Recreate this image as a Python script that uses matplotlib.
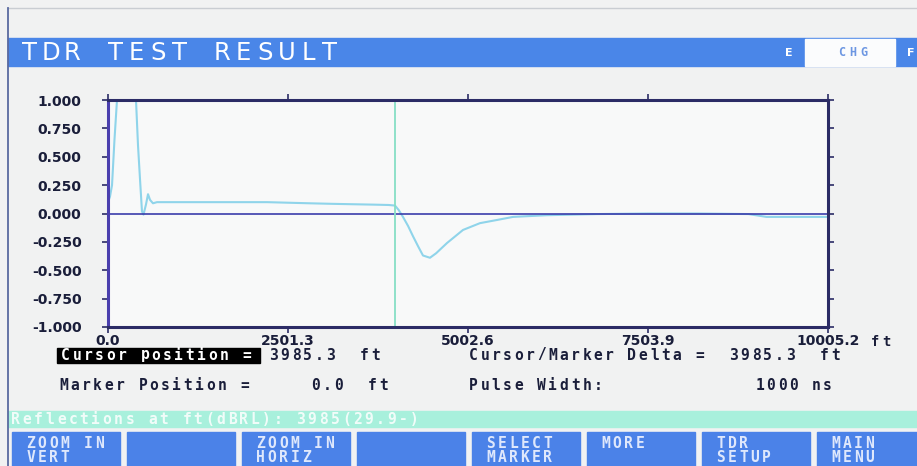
import numpy as np
import matplotlib.pyplot as plt
from matplotlib.patches import Rectangle

# TDR trace (distance in ft, reflection coefficient)
dist_ft = [0, 28, 56, 90, 125, 160, 375, 389, 417, 445, 472, 493, 528, 556, 584,
           625, 681, 1200, 2209, 2800, 3127, 3700, 3900, 3988, 4040, 4099, 4170,
           4238, 4310, 4377, 4474, 4560, 4711, 4933, 5169, 5406, 5628, 6100,
           6800, 7500, 8200, 8900, 9050, 9150, 9600, 10005.2]
reflection = [0.10, 0.15, 0.25, 0.65, 1.0, 1.3, 1.3, 1.0, 0.6, 0.3, 0.02, -0.01,
              0.08, 0.17, 0.12, 0.09, 0.10, 0.10, 0.10, 0.09, 0.085, 0.078, 0.075,
              0.07, 0.03, -0.03, -0.11, -0.20, -0.29, -0.37, -0.39, -0.35, -0.26,
              -0.145, -0.085, -0.057, -0.03, -0.015, -0.005, 0.0, 0.0, -0.005,
              -0.02, -0.03, -0.03, -0.03]
cursor_ft = 3985.3

x_ticks = [0.0, 2501.3, 5002.6, 7503.9, 10005.2]
x_tick_labels = ['0.0', '2501.3', '5002.6', '7503.9', '10005.2']
y_ticks = [1.0, 0.75, 0.5, 0.25, 0.0, -0.25, -0.5, -0.75, -1.0]
y_tick_labels = ['1.000', '0.750', '0.500', '0.250', '0.000',
                 '-0.250', '-0.500', '-0.750', '-1.000']

buttons = [('ZOOM IN', 'VERT'), ('', ''), ('ZOOM IN', 'HORIZ'), ('', ''),
           ('SELECT', 'MARKER'), ('MORE', ''), ('TDR', 'SETUP'), ('MAIN', 'MENU')]

fig = plt.figure(figsize=(9.17, 4.66), dpi=100)
fig.patch.set_facecolor('#f1f2f2')

# pixel-space layer for the instrument screen
bg = fig.add_axes([0, 0, 1, 1])
bg.set_xlim(0, 917)
bg.set_ylim(466, 0)
bg.axis('off')


def spaced(x, y, s, pitch=11.3, color='#1a1e3a', size=10.5,
           family='DejaVu Sans Mono', weight='bold', alpha=1.0):
    # screen font is fixed pitch and wide, so place each character
    for i, ch in enumerate(s):
        if ch != ' ':
            bg.text(x + (i + 0.5) * pitch, y, ch, ha='center', va='center',
                    color=color, fontsize=size, family=family,
                    fontweight=weight, alpha=alpha)


# frame
bg.plot([8, 917], [8, 8], color='#c9cdd2', lw=1)
bg.plot([8, 8], [8, 466], color='#5a6aa0', lw=1.3)

# title bar
bg.add_patch(Rectangle((8, 38), 909, 28, color='#4a86e8'))
bg.add_patch(Rectangle((805, 39), 90, 27, color='#fbfcfd'))
spaced(19, 53, 'TDR TEST RESULT', pitch=21.4, color='white', size=17.5,
       family='DejaVu Sans', weight='normal')
bg.text(789, 53, 'E', ha='center', va='center', color='white', fontsize=8,
        fontweight='bold')
spaced(836, 53, 'CHG', pitch=11, color='#6d97e2', size=8.5)
bg.text(911, 53, 'F', ha='center', va='center', color='white', fontsize=8,
        fontweight='bold')

# unit after the last distance tick
spaced(869, 342, 'ft', pitch=11.3, size=10)

# readouts
bg.add_patch(Rectangle((57, 348), 203, 15, color='black'))
spaced(60, 355, 'Cursor position =', color='white')
spaced(268, 355, '3985.3  ft')
spaced(468, 355, 'Cursor/Marker Delta =  3985.3  ft')
spaced(58, 385, 'Marker Position =')
spaced(310, 385, '0.0  ft')
spaced(468, 385, 'Pulse Width:')
spaced(754, 385, '1000 ns')

# status line
bg.add_patch(Rectangle((8, 411), 909, 16, color='#a8f0dc'))
spaced(10, 419, 'Reflections at ft(dBRL): 3985(29.9-)', pitch=11.4,
       color='white', alpha=0.85)

# soft keys
for i, (l1, l2) in enumerate(buttons):
    x0 = 12 + i * 115
    bg.add_patch(Rectangle((x0, 432), 108, 40, color='#4b82e8'))
    spaced(x0 + 13, 443, l1, pitch=11.4, color='#dfe8fc')
    spaced(x0 + 13, 457, l2, pitch=11.4, color='#dfe8fc')

# plot area
ax = fig.add_axes([108 / 917, (466 - 327) / 466, 720 / 917, 227 / 466])
ax.set_facecolor('#f8f9f9')
ax.plot(dist_ft, reflection, color='#8fd4ea', lw=1.5)
ax.axhline(0, color='#3b3dab', lw=1.2)
ax.axvline(cursor_ft, color='#86dfc6', lw=1.3)
ax.set_xlim(0, 10005.2)
ax.set_ylim(-1, 1)

ax.set_xticks(x_ticks)
ax.set_xticklabels(x_tick_labels)
ax.set_yticks(y_ticks)
ax.set_yticklabels(y_tick_labels)
for lab in ax.get_xticklabels() + ax.get_yticklabels():
    lab.set_fontweight('bold')
    lab.set_fontsize(10)
    lab.set_color('#1a1e3a')

ax.tick_params(axis='both', direction='out', length=4, width=1.2,
               color='#2c2c66', top=True, right=True)
ax.tick_params(axis='x', pad=1)
ax.tick_params(axis='y', pad=15)
for side in ['top', 'right', 'bottom']:
    ax.spines[side].set_color('#2c2c66')
    ax.spines[side].set_linewidth(2.2)
ax.spines['left'].set_color('#4a3fae')
ax.spines['left'].set_linewidth(2.2)

fig.savefig('out.png', dpi=100, facecolor=fig.get_facecolor())
